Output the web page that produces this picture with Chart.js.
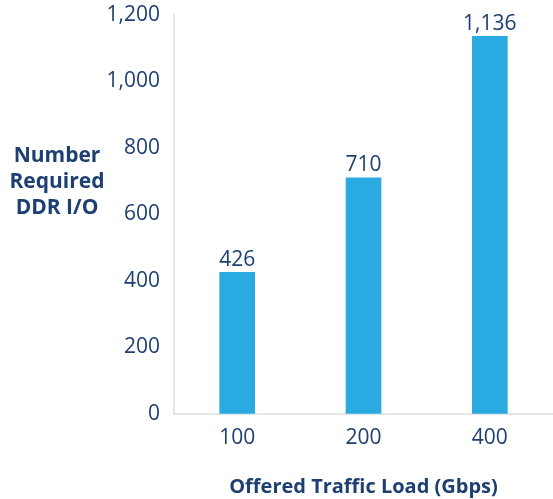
<!DOCTYPE html>
<html>
<head>
<meta charset="utf-8">
<script src="https://cdn.jsdelivr.net/npm/chart.js@4/dist/chart.umd.min.js"></script>
<style>
  html, body { margin: 0; padding: 0; background: #fff; }
  #wrap { width: 553px; height: 499px; }
</style>
</head>
<body>
<div id="wrap"><canvas id="chart" width="553" height="499"></canvas></div>
<script>
// data
const categories = ['100', '200', '400'];
const ddrCounts = [426, 710, 1136];
const yTicks = [0, 200, 400, 600, 800, 1000, 1200];
const yTitleLines = ['Number', 'Required', 'DDR I/O'];
const xTitle = 'Offered Traffic Load (Gbps)';

const textColor = '#1d3f72';
const barColor = '#29abe2';
const axisColor = '#e6e6e6';
const fontFamily = '"Open Sans", "Noto Sans", sans-serif';

const fmt = v => v.toLocaleString('en-US');

// value labels sitting on top of each bar
const valueLabels = {
  id: 'valueLabels',
  afterDatasetsDraw(chart) {
    const ctx = chart.ctx;
    const meta = chart.getDatasetMeta(0);
    ctx.save();
    ctx.font = '21px ' + fontFamily;
    ctx.fillStyle = textColor;
    ctx.textAlign = 'center';
    ctx.textBaseline = 'bottom';
    meta.data.forEach((bar, i) => {
      ctx.fillText(fmt(ddrCounts[i]), bar.x, bar.y - 2);
    });
    ctx.restore();
  }
};

// horizontal y-axis title left of the tick labels
const yTitle = {
  id: 'yTitle',
  afterDraw(chart) {
    const ctx = chart.ctx;
    ctx.save();
    ctx.font = 'bold 21px ' + fontFamily;
    ctx.fillStyle = textColor;
    ctx.textAlign = 'center';
    ctx.textBaseline = 'middle';
    yTitleLines.forEach((line, i) => {
      ctx.fillText(line, 57, 156 + i * 26);
    });
    ctx.restore();
  }
};

new Chart(document.getElementById('chart'), {
  type: 'bar',
  data: {
    labels: categories,
    datasets: [{
      data: ddrCounts,
      backgroundColor: barColor,
      barThickness: 35
    }]
  },
  options: {
    responsive: false,
    animation: false,
    layout: { autoPadding: false, padding: { left: 100, top: 15, right: 0, bottom: 0 } },
    plugins: {
      legend: { display: false },
      tooltip: { enabled: false }
    },
    scales: {
      x: {
        grid: { display: false, drawTicks: false },
        border: { display: true, color: axisColor, width: 2 },
        ticks: { color: textColor, font: { family: fontFamily, size: 21 }, padding: 12 },
        title: {
          display: true,
          text: xTitle,
          color: textColor,
          font: { family: fontFamily, size: 20, weight: 'bold' },
          padding: { top: 12, bottom: 0 }
        }
      },
      y: {
        min: 0,
        max: 1200,
        afterBuildTicks: s => { s.ticks = yTicks.map(v => ({ value: v })); },
        afterFit: s => { s.width = 74; s.paddingTop = 0; s.paddingBottom = 0; },
        grid: { display: false, drawTicks: false },
        border: { display: true, color: axisColor, width: 2 },
        ticks: {
          color: textColor,
          font: { family: fontFamily, size: 21 },
          padding: 14,
          callback: v => fmt(v)
        }
      }
    }
  },
  plugins: [valueLabels, yTitle]
});
</script>
</body>
</html>
